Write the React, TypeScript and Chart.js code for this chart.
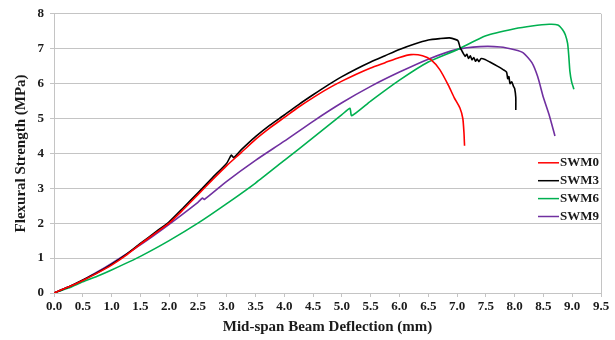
import React, { useEffect, useRef } from "react";
import { Chart, registerables } from "chart.js";

Chart.register(...registerables);

const seriesNames = ["SWM0", "SWM3", "SWM6", "SWM9"];
const seriesColors = ["#ff0000", "#000000", "#00b050", "#7030a0"];

const swm0X = [0, 0.25, 0.5, 0.75, 1.0, 1.25, 1.5, 1.75, 2.0, 2.25, 2.5, 2.75, 3.0, 3.25, 3.5, 3.75, 4.0, 4.25, 4.5, 4.75, 5.0, 5.25, 5.5, 5.75, 6.0, 6.2, 6.4, 6.55, 6.7, 6.85, 6.95, 7.05, 7.1, 7.12, 7.13];
const swm0Y = [0, 0.17, 0.36, 0.57, 0.8, 1.08, 1.4, 1.7, 2.0, 2.4, 2.82, 3.24, 3.65, 4.02, 4.4, 4.73, 5.03, 5.33, 5.6, 5.85, 6.07, 6.27, 6.45, 6.6, 6.75, 6.83, 6.8, 6.68, 6.4, 5.95, 5.6, 5.3, 5.0, 4.6, 4.22];

const swm3X = [0, 0.25, 0.5, 0.75, 1.0, 1.25, 1.5, 1.75, 2.0, 2.25, 2.5, 2.75, 3.0, 3.08, 3.12, 3.25, 3.5, 3.75, 4.0, 4.25, 4.5, 4.75, 5.0, 5.25, 5.5, 5.75, 6.0, 6.25, 6.5, 6.7, 6.87, 6.98, 7.02, 7.05, 7.08, 7.11, 7.14, 7.17, 7.2, 7.23, 7.26, 7.29, 7.32, 7.35, 7.38, 7.42, 7.5, 7.57, 7.7, 7.8, 7.86, 7.88, 7.9, 7.92, 7.95, 7.98, 8.0, 8.02, 8.02];
const swm3Y = [0, 0.17, 0.37, 0.58, 0.82, 1.1, 1.42, 1.73, 2.04, 2.45, 2.87, 3.3, 3.72, 3.95, 3.88, 4.1, 4.48, 4.81, 5.1, 5.4, 5.68, 5.95, 6.2, 6.42, 6.62, 6.8, 6.98, 7.13, 7.25, 7.29, 7.31, 7.26, 7.22, 7.05, 6.95, 6.86, 6.78, 6.84, 6.72, 6.8, 6.68, 6.75, 6.64, 6.7, 6.63, 6.72, 6.68, 6.62, 6.5, 6.4, 6.33, 6.14, 6.2, 6.0, 6.05, 5.92, 5.86, 5.6, 5.24];

const swm6X = [0, 0.25, 0.5, 0.75, 1.0, 1.5, 2.0, 2.5, 3.0, 3.5, 4.0, 4.5, 5.0, 5.14, 5.17, 5.5, 6.0, 6.5, 7.0, 7.5, 8.0, 8.3, 8.6, 8.75, 8.83, 8.88, 8.92, 8.94, 8.96, 8.99, 9.03];
const swm6Y = [0, 0.14, 0.32, 0.48, 0.66, 1.05, 1.5, 2.0, 2.56, 3.15, 3.8, 4.45, 5.11, 5.29, 5.08, 5.5, 6.1, 6.62, 6.97, 7.37, 7.57, 7.65, 7.7, 7.68, 7.55, 7.4, 7.15, 6.8, 6.35, 6.05, 5.84];

const swm9X = [0, 0.25, 0.5, 0.75, 1.0, 1.5, 2.0, 2.5, 2.58, 2.61, 3.0, 3.5, 4.0, 4.5, 5.0, 5.5, 6.0, 6.5, 7.0, 7.4, 7.75, 8.0, 8.15, 8.3, 8.4, 8.5, 8.6, 8.7];
const swm9Y = [0, 0.17, 0.37, 0.6, 0.85, 1.38, 1.97, 2.6, 2.72, 2.68, 3.2, 3.8, 4.35, 4.92, 5.45, 5.92, 6.33, 6.7, 6.98, 7.06, 7.05, 6.97, 6.88, 6.6, 6.2, 5.6, 5.1, 4.5];

const seriesX = [swm0X, swm3X, swm6X, swm9X];
const seriesY = [swm0Y, swm3Y, swm6Y, swm9Y];

const xTitle = "Mid-span Beam Deflection (mm)";
const yTitle = "Flexural Strength (MPa)";

const FONT = "'Liberation Serif', 'Times New Roman', serif";
const GRID = "#c4c4c4";

const frameAndLegend = {
  id: "frameAndLegend",
  beforeDatasetsDraw(chart: any) {
    const { ctx, chartArea } = chart;
    ctx.save();
    ctx.strokeStyle = GRID;
    ctx.lineWidth = 1;
    ctx.beginPath();
    ctx.moveTo(Math.round(chartArea.right) + 0.5, chartArea.top);
    ctx.lineTo(Math.round(chartArea.right) + 0.5, chartArea.bottom);
    ctx.stroke();
    ctx.restore();
  },
  afterDatasetsDraw(chart: any) {
    const { ctx, chartArea } = chart;
    ctx.save();
    ctx.font = `bold 13px ${FONT}`;
    ctx.textBaseline = "middle";
    chart.data.datasets.forEach((ds: any, i: number) => {
      const y = chartArea.top + 149 + i * 17.9;
      const textRight = chartArea.right - 2;
      const w = ctx.measureText(ds.label).width;
      const textLeft = textRight - w;
      ctx.fillStyle = "#1a1a1a";
      ctx.textAlign = "left";
      ctx.fillText(ds.label, textLeft, y);
      ctx.strokeStyle = ds.borderColor;
      ctx.lineWidth = 1.5;
      ctx.beginPath();
      ctx.moveTo(textLeft - 22, y);
      ctx.lineTo(textLeft - 1, y);
      ctx.stroke();
    });
    ctx.restore();
  },
};

export default function App() {
  const ref = useRef<HTMLCanvasElement | null>(null);
  useEffect(() => {
    if (!ref.current) return;
    const datasets = seriesNames.map((name, i) => ({
      label: name,
      data: seriesX[i].map((x, j) => ({ x, y: seriesY[i][j] })),
      borderColor: seriesColors[i],
      backgroundColor: seriesColors[i],
      borderWidth: 1.6,
      pointRadius: 0,
      tension: 0.2,
      fill: false,
    }));
    const chart = new Chart(ref.current, {
      type: "line",
      data: { datasets },
      plugins: [frameAndLegend],
      options: {
        animation: false,
        responsive: false,
        layout: { padding: { left: 0, right: 14, top: 13, bottom: 0 } },
        plugins: { legend: { display: false }, tooltip: { enabled: false } },
        scales: {
          x: {
            type: "linear",
            min: 0,
            max: 9.5,
            ticks: {
              stepSize: 0.5,
              color: "#1a1a1a",
              font: { family: FONT, size: 13, weight: "bold" },
              padding: 2,
              maxRotation: 0,
              autoSkip: false,
              callback: (v: any) => Number(v).toFixed(1),
            },
            grid: { drawOnChartArea: false, drawTicks: true, tickLength: 4, color: GRID },
            border: { color: GRID },
            title: {
              display: true,
              text: xTitle,
              color: "#1a1a1a",
              font: { family: FONT, size: 15, weight: "bold" },
              padding: { top: 0, bottom: 4 },
            },
            afterFit: (s: any) => { s.height = 47; },
          },
          y: {
            type: "linear",
            min: 0,
            max: 8,
            ticks: {
              stepSize: 1,
              color: "#1a1a1a",
              font: { family: FONT, size: 13, weight: "bold" },
              padding: 6,
            },
            grid: { color: GRID, tickLength: 4 },
            border: { color: GRID },
            title: {
              display: true,
              text: yTitle,
              color: "#1a1a1a",
              font: { family: FONT, size: 15, weight: "bold" },
              padding: { top: 12, bottom: 0 },
            },
            afterFit: (s: any) => { s.width = 54; },
          },
        },
      },
    });
    return () => chart.destroy();
  }, []);
  return (
    <div style={{ position: "absolute", left: 0, top: 0, width: 615, height: 340, background: "#fff" }}>
      <canvas ref={ref} width={615} height={340} />
    </div>
  );
}
